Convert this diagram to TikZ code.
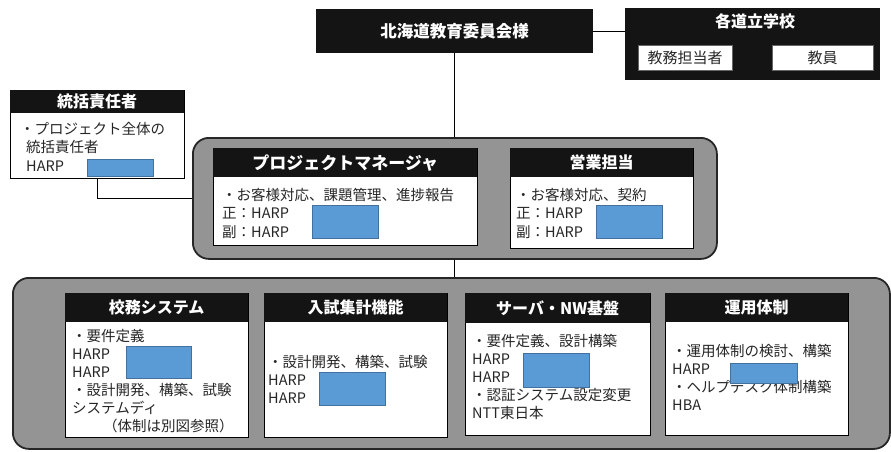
\documentclass[tikz,border=0pt]{standalone}
\usepackage{fontspec}
\setmainfont{Noto Sans CJK JP}
\definecolor{maskfill}{HTML}{5B9BD5}
\definecolor{maskedge}{HTML}{41719C}
\begin{document}
\begin{tikzpicture}[x=1pt,y=-1pt,
  group/.style={draw=black!85, line width=1.8pt, fill=black!42, rounded corners=16pt, anchor=north west, inner sep=0},
  body/.style={draw=black, line width=1pt, fill=white, anchor=north west, inner sep=0},
  band/.style={fill=black!92, text=white, font=\bfseries\fontsize{16}{18}\selectfont, anchor=north west, inner sep=0},
  txt/.style={anchor=north west, align=left, text=black!85, font=\fontsize{14.5}{18}\selectfont, inner sep=0},
  mask/.style={fill=maskfill, draw=maskedge, line width=1pt, anchor=north west, inner sep=0},
  link/.style={draw=black, line width=1pt},
  wbox/.style={fill=white, draw=black!60, text=black!85, font=\fontsize{15}{17}\selectfont, anchor=north west, inner sep=0}
]
\useasboundingbox (0,0) rectangle (891,452);

% groups
\node[group, minimum width=524, minimum height=121] (pmg) at (192,137) {};
\node[group, minimum width=877, minimum height=171] (btg) at (12,277) {};

% top
\node[band, minimum width=277, minimum height=44, font=\bfseries\fontsize{16.5}{18}\selectfont] (kita) at (316,9) {北海道教育委員会様};
\node[band, minimum width=255, minimum height=72] (sch) at (625,8) {};
\node[text=white, font=\bfseries\fontsize{16}{18}\selectfont, inner sep=0] (schT) at (755,21) {各道立学校};
\node[wbox, minimum width=94, minimum height=25] (kyomu) at (638,45) {教務担当者};
\node[wbox, minimum width=101, minimum height=25] (kyoin) at (772,45) {教員};

% 統括責任者
\node[body, minimum width=174, minimum height=88] (tk) at (10,90) {};
\node[band, minimum width=174, minimum height=23] (tkT) at (10,90) {統括責任者};
\node[txt, font=\fontsize{14.5}{18.5}\selectfont] (tkX) at (20,122) {・プロジェクト全体の\\\hspace*{6pt}統括責任者\\\hspace*{6pt}HARP};
\node[mask, minimum width=66, minimum height=17] (m0) at (87,159) {};

% PM
\node[body, minimum width=264, minimum height=97] (pm) at (213,148) {};
\node[band, minimum width=264, minimum height=29, font=\bfseries\fontsize{17}{18}\selectfont] (pmT) at (213,148) {プロジェクトマネージャ};
\node[txt, font=\fontsize{14.5}{18.5}\selectfont] (pmX) at (222,188) {・お客様対応、課題管理、進捗報告\\正：HARP\\副：HARP};
\node[mask, minimum width=66, minimum height=33] (m1) at (312,205) {};

% 営業
\node[body, minimum width=183, minimum height=100] (eg) at (510,148) {};
\node[band, minimum width=183, minimum height=29] (egT) at (510,148) {営業担当};
\node[txt, font=\fontsize{14.5}{18.5}\selectfont] (egX) at (516,188) {・お客様対応、契約\\正：HARP\\副：HARP};
\node[mask, minimum width=66, minimum height=33] (m2) at (596,205) {};

% 校務システム
\node[body, minimum width=183, minimum height=144] (km) at (65,293) {};
\node[band, minimum width=183, minimum height=29] (kmT) at (65,293) {校務システム};
\node[txt] (kmX) at (72,329) {・要件定義\\HARP\\HARP\\・設計開発、構築、試験\\システムディ\\\hspace*{31pt}（体制は別図参照）};
\node[mask, minimum width=65, minimum height=32] (m3) at (126,346) {};

% 入試集計機能
\node[body, minimum width=183, minimum height=144] (ns) at (264,293) {};
\node[band, minimum width=183, minimum height=29] (nsT) at (264,293) {入試集計機能};
\node[txt] (nsX) at (268,355) {・設計開発、構築、試験\\HARP\\HARP};
\node[mask, minimum width=66, minimum height=33] (m4) at (319,372) {};

% サーバ・NW基盤
\node[body, minimum width=185, minimum height=142] (sv) at (465,293) {};
\node[band, minimum width=185, minimum height=30] (svT) at (465,293) {サーバ・NW基盤};
\node[txt] (svX) at (472,334) {・要件定義、設計構築\\HARP\\HARP\\・認証システム設定変更\\NTT東日本};
\node[mask, minimum width=66, minimum height=34] (m5) at (523,353) {};

% 運用体制
\node[body, minimum width=183, minimum height=142] (un) at (665,293) {};
\node[band, minimum width=183, minimum height=29] (unT) at (665,293) {運用体制};
\node[txt] (unX) at (672,344) {・運用体制の検討、構築\\HARP\\・ヘルプデスク体制構築\\HBA};
\node[mask, minimum width=67, minimum height=20] (m6) at (730,363) {};

% connectors
\draw[link] (kita.east) -- (kita.east -| sch.west);
\draw[link] (kita.south) -- (kita.south |- pmg.north);
\draw[link] (pmg.south) -- (pmg.south |- btg.north);
\draw[link] (tk.south) |- (pmg.west);
\end{tikzpicture}
\end{document}
